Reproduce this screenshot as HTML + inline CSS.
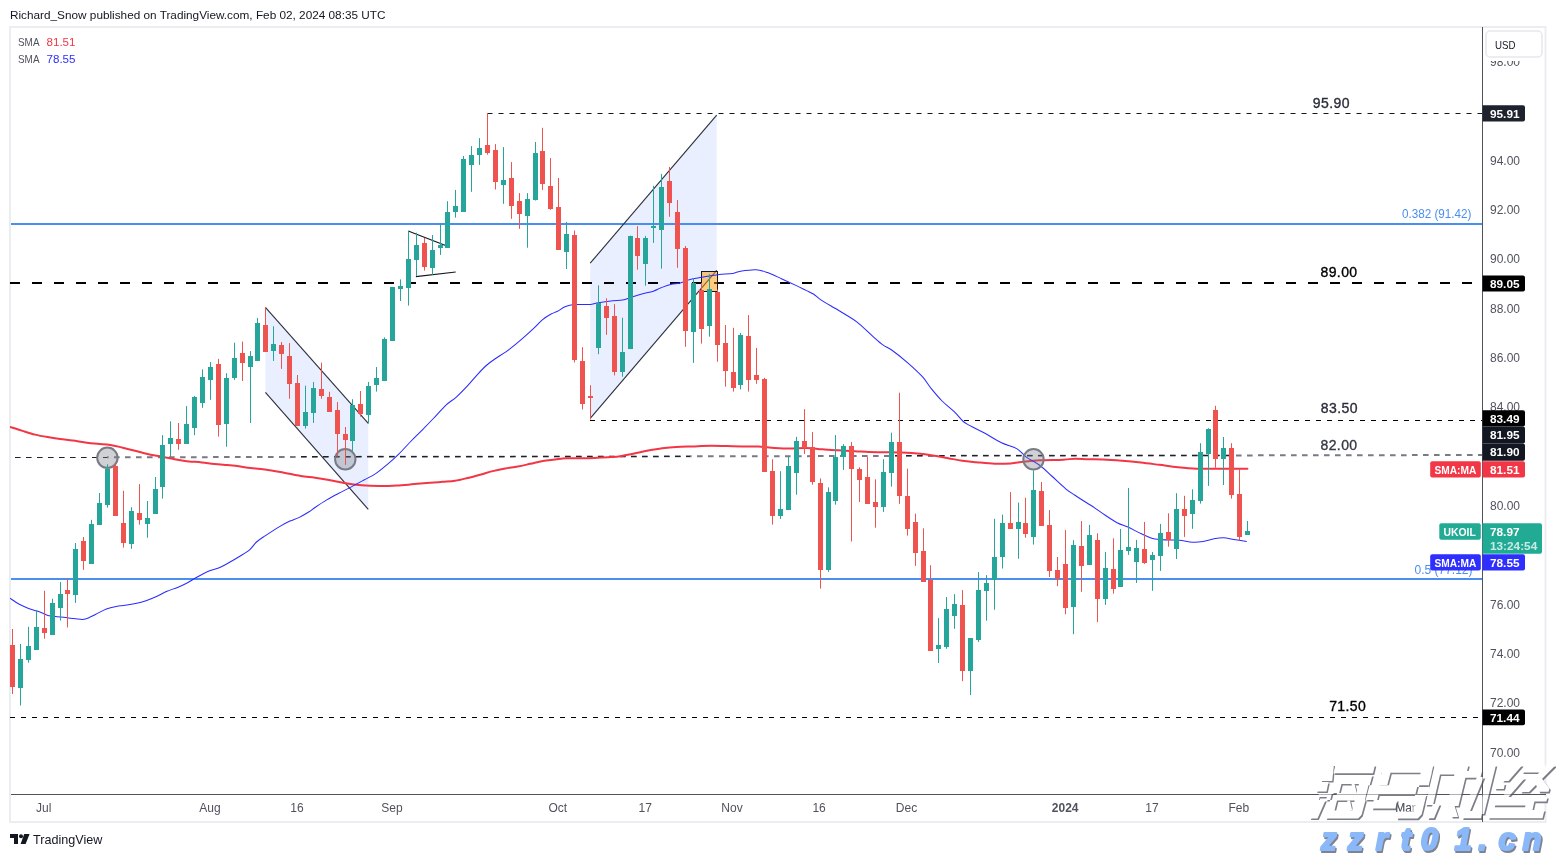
<!DOCTYPE html><html><head><meta charset="utf-8"><title>UKOIL chart</title><style>
html,body{margin:0;padding:0;background:#fff;}
body{width:1556px;height:857px;overflow:hidden;position:relative;font-family:"Liberation Sans", sans-serif;}
svg{position:absolute;left:0;top:0;display:block;will-change:transform;}
text{font-family:"Liberation Sans", sans-serif;}
</style></head><body>
<svg width="1556" height="857" viewBox="0 0 1556 857" shape-rendering="auto">
<defs><clipPath id="cp"><rect x="10" y="28" width="1472" height="766"/></clipPath><filter id="sh" x="-10%" y="-10%" width="130%" height="140%"><feGaussianBlur in="SourceAlpha" stdDeviation="1.2"/><feOffset dx="2" dy="3" result="o"/><feFlood flood-color="#555" flood-opacity="0.9"/><feComposite in2="o" operator="in"/><feMerge><feMergeNode/><feMergeNode in="SourceGraphic"/></feMerge></filter><filter id="bl"><feGaussianBlur stdDeviation="0.7"/></filter></defs>
<rect x="0" y="0" width="1556" height="857" fill="#ffffff"/>
<text x="10" y="19" font-size="11.7" fill="#131722" textLength="375.5" lengthAdjust="spacingAndGlyphs">Richard_Snow published on TradingView.com, Feb 02, 2024 08:35 UTC</text>
<rect x="10" y="27" width="1535.5" height="795" fill="none" stroke="#ebedf1" stroke-width="2"/>
<g clip-path="url(#cp)">
<polygon points="265.4,307.4 368.3,423.4 368.3,509.3 265.4,392.4" fill="rgba(41,98,255,0.1)"/>
<polygon points="590.2,263.2 716.7,115.2 716.7,270.4 590.2,418.4" fill="rgba(41,98,255,0.1)"/>
<rect x="11" y="223" width="1471" height="2" fill="#4a8ff0"/>
<rect x="11" y="578" width="1471" height="2" fill="#4a8ff0"/>
<line x1="487.5" y1="113.5" x2="1482.0" y2="113.5" stroke="#131722" stroke-width="1" stroke-dasharray="5 6" stroke-dashoffset="0"/>
<line x1="10.0" y1="283.0" x2="1482.0" y2="283.0" stroke="#000000" stroke-width="2" stroke-dasharray="10 12" stroke-dashoffset="0"/>
<line x1="590.0" y1="420.5" x2="1482.0" y2="420.5" stroke="#000000" stroke-width="1" stroke-dasharray="5 6" stroke-dashoffset="0"/>
<line x1="107" y1="457.3" x2="1482" y2="455" stroke="#787b86" stroke-width="2" stroke-dasharray="5.6 5.4" stroke-dashoffset="4.0"/>
<line x1="10.0" y1="717.5" x2="1482.0" y2="717.5" stroke="#000000" stroke-width="1" stroke-dasharray="5 6" stroke-dashoffset="0"/>
<line x1="15.0" y1="457.5" x2="107.0" y2="457.5" stroke="#1e222d" stroke-width="1.2" stroke-dasharray="5.6 5.4" stroke-dashoffset="0.0"/>
<line x1="300.0" y1="456.5" x2="690.0" y2="456.5" stroke="#1e222d" stroke-width="1.2" stroke-dasharray="5.6 5.4" stroke-dashoffset="10.0"/>
<line x1="890.0" y1="455.5" x2="1235.0" y2="455.5" stroke="#1e222d" stroke-width="1.2" stroke-dasharray="5.6 5.4" stroke-dashoffset="6.0"/>
<line x1="265.4" y1="307.4" x2="368.3" y2="423.4" stroke="#2a2e39" stroke-width="1.1"/>
<line x1="265.4" y1="392.4" x2="368.3" y2="509.3" stroke="#2a2e39" stroke-width="1.1"/>
<line x1="590.2" y1="263.2" x2="716.7" y2="115.2" stroke="#2a2e39" stroke-width="1.1"/>
<line x1="590.2" y1="418.4" x2="716.7" y2="270.4" stroke="#2a2e39" stroke-width="1.1"/>
<line x1="408.2" y1="231.1" x2="445.6" y2="245.6" stroke="#131722" stroke-width="1.1"/>
<line x1="415.9" y1="276.6" x2="455.7" y2="272" stroke="#131722" stroke-width="1.1"/>
<rect x="701.5" y="271.5" width="16" height="20" fill="rgba(255,152,0,0.5)" stroke="#131722" stroke-width="1"/>
<path d="M10.00 426.90 C12.08 427.57 18.32 429.62 22.50 430.90 C26.68 432.18 30.92 433.57 35.10 434.60 C39.28 435.63 43.43 436.37 47.60 437.10 C51.77 437.83 55.92 438.43 60.10 439.00 C64.28 439.57 68.52 439.93 72.70 440.50 C76.88 441.07 81.03 441.85 85.20 442.40 C89.37 442.95 93.52 443.38 97.70 443.80 C101.88 444.22 106.12 444.25 110.30 444.90 C114.48 445.55 118.68 446.73 122.80 447.70 C126.92 448.67 130.88 449.65 135.00 450.70 C139.12 451.75 143.32 453.07 147.50 454.00 C151.68 454.93 155.92 455.50 160.10 456.30 C164.28 457.10 168.43 458.03 172.60 458.80 C176.77 459.57 180.23 460.28 185.10 460.90 C189.97 461.52 196.92 461.98 201.80 462.50 C206.68 463.02 210.22 463.58 214.40 464.00 C218.58 464.42 223.42 464.72 226.90 465.00 C230.38 465.28 231.82 465.25 235.30 465.70 C238.78 466.15 242.85 467.08 247.80 467.70 C252.75 468.32 259.13 468.60 265.00 469.40 C270.87 470.20 277.05 471.40 283.00 472.50 C288.95 473.60 295.37 475.13 300.70 476.00 C306.03 476.87 310.28 477.03 315.00 477.70 C319.72 478.37 324.13 479.12 329.00 480.00 C333.87 480.88 338.75 482.12 344.20 483.00 C349.65 483.88 355.87 484.78 361.70 485.30 C367.53 485.82 373.37 486.05 379.20 486.10 C385.03 486.15 390.87 485.93 396.70 485.60 C402.53 485.27 408.65 484.57 414.20 484.10 C419.75 483.63 425.28 483.18 430.00 482.80 C434.72 482.42 438.32 482.13 442.50 481.80 C446.68 481.47 450.92 481.43 455.10 480.80 C459.28 480.17 463.43 479.02 467.60 478.00 C471.77 476.98 475.92 475.85 480.10 474.70 C484.28 473.55 488.52 472.15 492.70 471.10 C496.88 470.05 501.03 469.15 505.20 468.40 C509.37 467.65 513.52 467.37 517.70 466.60 C521.88 465.83 526.12 464.75 530.30 463.80 C534.48 462.85 538.68 461.60 542.80 460.90 C546.92 460.20 551.10 460.03 555.00 459.60 C558.90 459.17 561.53 458.52 566.20 458.30 C570.87 458.08 577.87 458.38 583.00 458.30 C588.13 458.22 592.35 458.00 597.00 457.80 C601.65 457.60 607.03 457.37 610.90 457.10 C614.77 456.83 616.32 456.82 620.20 456.20 C624.08 455.58 629.53 454.33 634.20 453.40 C638.87 452.47 643.53 451.45 648.20 450.60 C652.87 449.75 657.53 448.92 662.20 448.30 C666.87 447.68 670.73 447.22 676.20 446.90 C681.67 446.58 689.22 446.58 695.00 446.40 C700.78 446.22 705.60 445.85 710.90 445.80 C716.20 445.75 721.50 446.00 726.80 446.10 C732.10 446.20 737.40 446.32 742.70 446.40 C748.00 446.48 753.30 446.35 758.60 446.60 C763.90 446.85 769.20 447.58 774.50 447.90 C779.80 448.22 785.10 448.50 790.40 448.50 C795.70 448.50 800.98 447.77 806.30 447.90 C811.62 448.03 816.98 448.90 822.30 449.30 C827.62 449.70 832.75 449.98 838.20 450.30 C843.65 450.62 849.87 450.90 855.00 451.20 C860.13 451.50 864.33 451.92 869.00 452.10 C873.67 452.28 877.57 452.22 883.00 452.30 C888.43 452.38 895.40 452.35 901.60 452.60 C907.80 452.85 914.77 453.27 920.20 453.80 C925.63 454.33 929.53 455.07 934.20 455.80 C938.87 456.53 943.53 457.38 948.20 458.20 C952.87 459.02 957.53 460.03 962.20 460.70 C966.87 461.37 970.77 461.68 976.20 462.20 C981.63 462.72 989.03 463.60 994.80 463.80 C1000.57 464.00 1005.60 463.80 1010.80 463.40 C1016.00 463.00 1021.13 461.92 1026.00 461.40 C1030.87 460.88 1033.77 460.58 1040.00 460.30 C1046.23 460.02 1057.57 459.97 1063.40 459.70 C1069.23 459.43 1070.90 458.78 1075.00 458.70 C1079.10 458.62 1083.28 459.08 1088.00 459.20 C1092.72 459.32 1097.63 459.15 1103.30 459.40 C1108.97 459.65 1115.77 460.18 1122.00 460.70 C1128.23 461.22 1134.48 461.82 1140.70 462.50 C1146.92 463.18 1153.08 464.02 1159.30 464.80 C1165.52 465.58 1171.77 466.55 1178.00 467.20 C1184.23 467.85 1190.48 468.45 1196.70 468.70 C1202.92 468.95 1206.85 468.70 1215.30 468.70 C1223.75 468.70 1242.05 468.70 1247.40 468.70" fill="none" stroke="#f23645" stroke-width="2.0" stroke-linecap="round" stroke-linejoin="round"/>
<path d="M10.00 598.20 C11.63 599.25 16.80 602.83 19.80 604.50 C22.80 606.17 25.13 607.10 28.00 608.20 C30.87 609.30 34.28 610.15 37.00 611.10 C39.72 612.05 42.27 613.12 44.30 613.90 C46.33 614.68 47.28 615.38 49.20 615.80 C51.12 616.22 52.80 616.07 55.80 616.40 C58.80 616.73 63.93 617.40 67.20 617.80 C70.47 618.20 72.82 618.52 75.40 618.80 C77.98 619.08 80.53 619.63 82.70 619.50 C84.87 619.37 86.22 618.87 88.40 618.00 C90.58 617.13 92.80 615.80 95.80 614.30 C98.80 612.80 103.00 610.32 106.40 609.00 C109.80 607.68 113.10 607.02 116.20 606.40 C119.30 605.78 121.78 605.78 125.00 605.30 C128.22 604.82 132.00 604.27 135.50 603.50 C139.00 602.73 142.50 601.87 146.00 600.70 C149.50 599.53 153.00 598.07 156.50 596.50 C160.00 594.93 163.50 592.82 167.00 591.30 C170.50 589.78 174.23 588.75 177.50 587.40 C180.77 586.05 183.68 584.72 186.60 583.20 C189.52 581.68 192.43 579.75 195.00 578.30 C197.57 576.85 199.45 575.78 202.00 574.50 C204.55 573.22 207.53 571.68 210.30 570.60 C213.07 569.52 216.03 569.02 218.60 568.00 C221.17 566.98 221.95 566.58 225.70 564.50 C229.45 562.42 237.03 558.03 241.10 555.50 C245.17 552.97 247.53 551.55 250.10 549.30 C252.67 547.05 253.93 544.28 256.50 542.00 C259.07 539.72 261.65 538.17 265.50 535.60 C269.35 533.03 275.53 529.02 279.60 526.60 C283.67 524.18 286.70 522.60 289.90 521.10 C293.10 519.60 295.60 519.15 298.80 517.60 C302.00 516.05 306.40 513.48 309.10 511.80 C311.80 510.12 312.07 509.48 315.00 507.50 C317.93 505.52 322.82 502.23 326.70 499.90 C330.58 497.57 334.42 495.55 338.30 493.50 C342.18 491.45 345.72 489.85 350.00 487.60 C354.28 485.35 359.72 482.33 364.00 480.00 C368.28 477.67 371.80 476.22 375.70 473.60 C379.60 470.98 383.52 467.60 387.40 464.30 C391.28 461.00 395.12 457.60 399.00 453.80 C402.88 450.00 406.80 445.50 410.70 441.50 C414.60 437.50 418.70 433.55 422.40 429.80 C426.10 426.05 428.97 423.12 432.90 419.00 C436.83 414.88 442.10 408.75 446.00 405.10 C449.90 401.45 452.65 400.38 456.30 397.10 C459.95 393.82 464.27 389.28 467.90 385.40 C471.53 381.52 474.93 377.20 478.10 373.80 C481.27 370.40 483.98 367.55 486.90 365.00 C489.82 362.45 492.43 360.68 495.60 358.50 C498.77 356.32 502.48 354.33 505.90 351.90 C509.32 349.47 512.70 346.70 516.10 343.90 C519.50 341.10 523.15 337.90 526.30 335.10 C529.45 332.30 532.33 329.65 535.00 327.10 C537.67 324.55 539.62 321.98 542.30 319.80 C544.98 317.62 548.65 315.38 551.10 314.00 C553.55 312.62 554.58 312.73 557.00 311.50 C559.42 310.27 562.72 307.75 565.60 306.60 C568.48 305.45 570.12 304.97 574.30 304.60 C578.48 304.23 586.68 304.72 590.70 304.40 C594.72 304.08 594.72 303.30 598.40 302.70 C602.08 302.10 608.78 301.23 612.80 300.80 C616.82 300.37 619.28 300.75 622.50 300.10 C625.72 299.45 628.88 297.92 632.10 296.90 C635.32 295.88 638.27 294.95 641.80 294.00 C645.33 293.05 650.10 292.23 653.30 291.20 C656.50 290.17 658.10 288.93 661.00 287.80 C663.90 286.67 667.48 285.20 670.70 284.40 C673.92 283.60 677.08 283.80 680.30 283.00 C683.52 282.20 686.72 280.50 690.00 279.60 C693.28 278.70 696.73 278.20 700.00 277.60 C703.27 277.00 706.38 276.52 709.60 276.00 C712.82 275.48 715.43 274.93 719.30 274.50 C723.17 274.07 729.27 273.95 732.80 273.40 C736.33 272.85 736.65 271.82 740.50 271.20 C744.35 270.58 751.40 269.47 755.90 269.70 C760.40 269.93 763.17 271.07 767.50 272.60 C771.83 274.13 777.08 276.73 781.90 278.90 C786.72 281.07 792.38 283.68 796.40 285.60 C800.42 287.52 803.10 288.95 806.00 290.40 C808.90 291.85 811.38 292.77 813.80 294.30 C816.22 295.83 816.97 297.27 820.50 299.60 C824.03 301.93 830.92 305.87 835.00 308.30 C839.08 310.73 841.32 311.90 845.00 314.20 C848.68 316.50 852.55 318.50 857.10 322.10 C861.65 325.70 868.00 332.00 872.30 335.80 C876.60 339.60 879.62 342.50 882.90 344.90 C886.18 347.30 887.95 347.30 892.00 350.20 C896.05 353.10 902.13 357.88 907.20 362.30 C912.27 366.72 918.35 372.27 922.40 376.70 C926.45 381.13 928.22 384.85 931.50 388.90 C934.78 392.95 938.32 397.22 942.10 401.00 C945.88 404.78 950.67 408.18 954.20 411.60 C957.73 415.02 960.67 419.17 963.30 421.50 C965.93 423.83 966.55 423.72 970.00 425.60 C973.45 427.48 978.75 429.93 984.00 432.80 C989.25 435.67 996.05 440.17 1001.50 442.80 C1006.95 445.43 1012.62 446.27 1016.70 448.60 C1020.78 450.93 1022.12 453.98 1026.00 456.80 C1029.88 459.62 1035.72 462.30 1040.00 465.50 C1044.28 468.70 1047.42 472.12 1051.70 476.00 C1055.98 479.88 1061.82 485.58 1065.70 488.80 C1069.58 492.02 1071.50 492.97 1075.00 495.30 C1078.50 497.63 1083.37 500.67 1086.70 502.80 C1090.03 504.93 1091.90 506.02 1095.00 508.10 C1098.10 510.18 1101.53 512.82 1105.30 515.30 C1109.07 517.78 1113.83 521.03 1117.60 523.00 C1121.37 524.97 1123.95 525.30 1127.90 527.10 C1131.85 528.90 1137.18 531.92 1141.30 533.80 C1145.42 535.68 1148.32 537.37 1152.60 538.40 C1156.88 539.43 1162.55 539.70 1167.00 540.00 C1171.45 540.30 1175.02 539.83 1179.30 540.20 C1183.58 540.57 1188.75 541.98 1192.70 542.20 C1196.65 542.42 1199.57 542.05 1203.00 541.50 C1206.43 540.95 1209.88 539.53 1213.30 538.90 C1216.72 538.27 1220.08 537.62 1223.50 537.70 C1226.92 537.78 1229.92 538.77 1233.80 539.40 C1237.68 540.03 1244.63 541.15 1246.80 541.50" fill="none" stroke="#2b2bff" stroke-width="1.05" stroke-linejoin="round"/>
<circle cx="107.4" cy="457.8" r="10.2" fill="rgba(120,123,134,0.35)" stroke="#787b86" stroke-width="2"/>
<circle cx="345.3" cy="459.3" r="10.2" fill="rgba(120,123,134,0.35)" stroke="#787b86" stroke-width="2"/>
<circle cx="1033.5" cy="459.3" r="10.2" fill="rgba(120,123,134,0.35)" stroke="#787b86" stroke-width="2"/>
<rect x="12" y="629.0" width="1" height="65.0" fill="#ef5350"/>
<rect x="10" y="645" width="5" height="42" fill="#ef5350"/>
<rect x="20" y="644.0" width="1" height="61.5" fill="#26a69a"/>
<rect x="18" y="659" width="5" height="29" fill="#26a69a"/>
<rect x="28" y="626.8" width="1" height="35.8" fill="#26a69a"/>
<rect x="26" y="646" width="5" height="14" fill="#26a69a"/>
<rect x="36" y="610.0" width="1" height="39.6" fill="#26a69a"/>
<rect x="34" y="627" width="5" height="23" fill="#26a69a"/>
<rect x="44" y="590.8" width="1" height="47.9" fill="#ef5350"/>
<rect x="42" y="628" width="5" height="5" fill="#ef5350"/>
<rect x="52" y="598.8" width="1" height="35.8" fill="#26a69a"/>
<rect x="50" y="603" width="5" height="32" fill="#26a69a"/>
<rect x="60" y="582.0" width="1" height="38.6" fill="#26a69a"/>
<rect x="58" y="594" width="5" height="14" fill="#26a69a"/>
<rect x="67" y="578.7" width="1" height="48.8" fill="#ef5350"/>
<rect x="65" y="590" width="5" height="4" fill="#ef5350"/>
<rect x="75" y="543.0" width="1" height="59.9" fill="#26a69a"/>
<rect x="73" y="549" width="5" height="46" fill="#26a69a"/>
<rect x="83" y="537.0" width="1" height="32.8" fill="#ef5350"/>
<rect x="81" y="541" width="5" height="20" fill="#ef5350"/>
<rect x="91" y="519.8" width="1" height="43.7" fill="#26a69a"/>
<rect x="89" y="524" width="5" height="40" fill="#26a69a"/>
<rect x="99" y="493.0" width="1" height="31.7" fill="#26a69a"/>
<rect x="97" y="503" width="5" height="22" fill="#26a69a"/>
<rect x="107" y="464.2" width="1" height="43.4" fill="#26a69a"/>
<rect x="105" y="469" width="5" height="36" fill="#26a69a"/>
<rect x="115" y="463.0" width="1" height="52.6" fill="#ef5350"/>
<rect x="113" y="466" width="5" height="50" fill="#ef5350"/>
<rect x="123" y="490.8" width="1" height="56.8" fill="#ef5350"/>
<rect x="121" y="523" width="5" height="20" fill="#ef5350"/>
<rect x="131" y="507.2" width="1" height="41.6" fill="#26a69a"/>
<rect x="129" y="511" width="5" height="33" fill="#26a69a"/>
<rect x="139" y="484.1" width="1" height="40.6" fill="#ef5350"/>
<rect x="137" y="513" width="5" height="7" fill="#ef5350"/>
<rect x="147" y="501.0" width="1" height="36.7" fill="#26a69a"/>
<rect x="145" y="518" width="5" height="6" fill="#26a69a"/>
<rect x="155" y="477.0" width="1" height="37.0" fill="#26a69a"/>
<rect x="153" y="489" width="5" height="25" fill="#26a69a"/>
<rect x="162" y="435.1" width="1" height="63.5" fill="#26a69a"/>
<rect x="160" y="445" width="5" height="42" fill="#26a69a"/>
<rect x="170" y="421.3" width="1" height="35.7" fill="#26a69a"/>
<rect x="168" y="438" width="5" height="6" fill="#26a69a"/>
<rect x="178" y="423.0" width="1" height="26.8" fill="#ef5350"/>
<rect x="176" y="439" width="5" height="5" fill="#ef5350"/>
<rect x="186" y="406.1" width="1" height="37.9" fill="#26a69a"/>
<rect x="184" y="424" width="5" height="20" fill="#26a69a"/>
<rect x="194" y="396.0" width="1" height="39.1" fill="#26a69a"/>
<rect x="192" y="397" width="5" height="31" fill="#26a69a"/>
<rect x="202" y="369.4" width="1" height="38.4" fill="#26a69a"/>
<rect x="200" y="377" width="5" height="26" fill="#26a69a"/>
<rect x="210" y="362.0" width="1" height="37.8" fill="#26a69a"/>
<rect x="208" y="367" width="5" height="13" fill="#26a69a"/>
<rect x="218" y="358.9" width="1" height="77.7" fill="#ef5350"/>
<rect x="216" y="364" width="5" height="61" fill="#ef5350"/>
<rect x="226" y="373.2" width="1" height="73.5" fill="#26a69a"/>
<rect x="224" y="378" width="5" height="46" fill="#26a69a"/>
<rect x="234" y="342.7" width="1" height="37.2" fill="#26a69a"/>
<rect x="232" y="358" width="5" height="20" fill="#26a69a"/>
<rect x="242" y="341.6" width="1" height="39.4" fill="#ef5350"/>
<rect x="240" y="353" width="5" height="10" fill="#ef5350"/>
<rect x="250" y="351.1" width="1" height="71.9" fill="#26a69a"/>
<rect x="248" y="356" width="5" height="11" fill="#26a69a"/>
<rect x="257" y="317.9" width="1" height="43.0" fill="#26a69a"/>
<rect x="255" y="323" width="5" height="38" fill="#26a69a"/>
<rect x="265" y="307.4" width="1" height="44.1" fill="#ef5350"/>
<rect x="263" y="325" width="5" height="27" fill="#ef5350"/>
<rect x="273" y="326.3" width="1" height="34.6" fill="#26a69a"/>
<rect x="271" y="344" width="5" height="7" fill="#26a69a"/>
<rect x="281" y="342.0" width="1" height="26.9" fill="#ef5350"/>
<rect x="279" y="345" width="5" height="9" fill="#ef5350"/>
<rect x="289" y="343.1" width="1" height="55.6" fill="#ef5350"/>
<rect x="287" y="356" width="5" height="28" fill="#ef5350"/>
<rect x="297" y="375.0" width="1" height="50.6" fill="#ef5350"/>
<rect x="295" y="383" width="5" height="43" fill="#ef5350"/>
<rect x="305" y="385.7" width="1" height="42.9" fill="#26a69a"/>
<rect x="303" y="412" width="5" height="14" fill="#26a69a"/>
<rect x="313" y="381.9" width="1" height="41.0" fill="#26a69a"/>
<rect x="311" y="388" width="5" height="25" fill="#26a69a"/>
<rect x="321" y="362.6" width="1" height="36.1" fill="#ef5350"/>
<rect x="319" y="389" width="5" height="7" fill="#ef5350"/>
<rect x="329" y="391.8" width="1" height="20.0" fill="#ef5350"/>
<rect x="327" y="397" width="5" height="15" fill="#ef5350"/>
<rect x="337" y="402.1" width="1" height="54.4" fill="#ef5350"/>
<rect x="335" y="410" width="5" height="24" fill="#ef5350"/>
<rect x="345" y="427.0" width="1" height="37.9" fill="#ef5350"/>
<rect x="343" y="434" width="5" height="6" fill="#ef5350"/>
<rect x="352" y="399.2" width="1" height="51.8" fill="#26a69a"/>
<rect x="350" y="405" width="5" height="36" fill="#26a69a"/>
<rect x="360" y="391.0" width="1" height="25.6" fill="#ef5350"/>
<rect x="358" y="404" width="5" height="10" fill="#ef5350"/>
<rect x="368" y="381.9" width="1" height="41.5" fill="#26a69a"/>
<rect x="366" y="386" width="5" height="29" fill="#26a69a"/>
<rect x="376" y="367.0" width="1" height="24.6" fill="#26a69a"/>
<rect x="374" y="378" width="5" height="7" fill="#26a69a"/>
<rect x="384" y="337.4" width="1" height="43.7" fill="#26a69a"/>
<rect x="382" y="339" width="5" height="42" fill="#26a69a"/>
<rect x="392" y="286.9" width="1" height="54.0" fill="#26a69a"/>
<rect x="390" y="287" width="5" height="54" fill="#26a69a"/>
<rect x="400" y="279.4" width="1" height="21.6" fill="#26a69a"/>
<rect x="398" y="286" width="5" height="3" fill="#26a69a"/>
<rect x="408" y="231.5" width="1" height="74.1" fill="#26a69a"/>
<rect x="406" y="259" width="5" height="29" fill="#26a69a"/>
<rect x="416" y="232.7" width="1" height="43.2" fill="#26a69a"/>
<rect x="414" y="245" width="5" height="15" fill="#26a69a"/>
<rect x="424" y="238.1" width="1" height="32.5" fill="#ef5350"/>
<rect x="422" y="243" width="5" height="24" fill="#ef5350"/>
<rect x="432" y="235.0" width="1" height="39.8" fill="#26a69a"/>
<rect x="430" y="250" width="5" height="18" fill="#26a69a"/>
<rect x="440" y="223.4" width="1" height="31.5" fill="#26a69a"/>
<rect x="438" y="245" width="5" height="3" fill="#26a69a"/>
<rect x="447" y="201.2" width="1" height="46.7" fill="#26a69a"/>
<rect x="445" y="212" width="5" height="36" fill="#26a69a"/>
<rect x="455" y="189.9" width="1" height="27.7" fill="#26a69a"/>
<rect x="453" y="206" width="5" height="6" fill="#26a69a"/>
<rect x="463" y="156.0" width="1" height="55.9" fill="#26a69a"/>
<rect x="461" y="159" width="5" height="53" fill="#26a69a"/>
<rect x="471" y="146.1" width="1" height="45.7" fill="#26a69a"/>
<rect x="469" y="155" width="5" height="10" fill="#26a69a"/>
<rect x="479" y="138.1" width="1" height="26.8" fill="#26a69a"/>
<rect x="477" y="148" width="5" height="7" fill="#26a69a"/>
<rect x="487" y="113.1" width="1" height="41.6" fill="#ef5350"/>
<rect x="485" y="145" width="5" height="8" fill="#ef5350"/>
<rect x="495" y="144.1" width="1" height="45.4" fill="#ef5350"/>
<rect x="493" y="150" width="5" height="32" fill="#ef5350"/>
<rect x="503" y="147.1" width="1" height="56.7" fill="#26a69a"/>
<rect x="501" y="180" width="5" height="5" fill="#26a69a"/>
<rect x="511" y="162.1" width="1" height="56.7" fill="#ef5350"/>
<rect x="509" y="178" width="5" height="28" fill="#ef5350"/>
<rect x="519" y="193.1" width="1" height="35.7" fill="#ef5350"/>
<rect x="517" y="201" width="5" height="13" fill="#ef5350"/>
<rect x="527" y="193.1" width="1" height="54.6" fill="#26a69a"/>
<rect x="525" y="199" width="5" height="17" fill="#26a69a"/>
<rect x="535" y="142.0" width="1" height="58.5" fill="#26a69a"/>
<rect x="533" y="153" width="5" height="47" fill="#26a69a"/>
<rect x="542" y="127.8" width="1" height="62.1" fill="#ef5350"/>
<rect x="540" y="151" width="5" height="33" fill="#ef5350"/>
<rect x="550" y="158.0" width="1" height="51.8" fill="#ef5350"/>
<rect x="548" y="186" width="5" height="23" fill="#ef5350"/>
<rect x="558" y="178.0" width="1" height="71.8" fill="#ef5350"/>
<rect x="556" y="207" width="5" height="43" fill="#ef5350"/>
<rect x="566" y="221.9" width="1" height="47.1" fill="#26a69a"/>
<rect x="564" y="234" width="5" height="18" fill="#26a69a"/>
<rect x="574" y="230.5" width="1" height="131.9" fill="#ef5350"/>
<rect x="572" y="235" width="5" height="125" fill="#ef5350"/>
<rect x="582" y="347.2" width="1" height="62.3" fill="#ef5350"/>
<rect x="580" y="361" width="5" height="43" fill="#ef5350"/>
<rect x="590" y="385.2" width="1" height="34.3" fill="#ef5350"/>
<rect x="588" y="396" width="5" height="2" fill="#ef5350"/>
<rect x="598" y="285.3" width="1" height="68.9" fill="#26a69a"/>
<rect x="596" y="303" width="5" height="45" fill="#26a69a"/>
<rect x="606" y="298.2" width="1" height="36.6" fill="#ef5350"/>
<rect x="604" y="306" width="5" height="12" fill="#ef5350"/>
<rect x="614" y="304.1" width="1" height="71.3" fill="#ef5350"/>
<rect x="612" y="316" width="5" height="56" fill="#ef5350"/>
<rect x="622" y="317.7" width="1" height="59.0" fill="#26a69a"/>
<rect x="620" y="352" width="5" height="20" fill="#26a69a"/>
<rect x="630" y="235.6" width="1" height="113.6" fill="#26a69a"/>
<rect x="628" y="236" width="5" height="113" fill="#26a69a"/>
<rect x="637" y="226.2" width="1" height="43.5" fill="#ef5350"/>
<rect x="635" y="238" width="5" height="18" fill="#ef5350"/>
<rect x="645" y="235.9" width="1" height="49.8" fill="#26a69a"/>
<rect x="643" y="238" width="5" height="26" fill="#26a69a"/>
<rect x="653" y="185.8" width="1" height="57.1" fill="#26a69a"/>
<rect x="651" y="226" width="5" height="2" fill="#26a69a"/>
<rect x="661" y="173.9" width="1" height="94.7" fill="#26a69a"/>
<rect x="659" y="187" width="5" height="43" fill="#26a69a"/>
<rect x="669" y="166.9" width="1" height="49.9" fill="#ef5350"/>
<rect x="667" y="181" width="5" height="22" fill="#ef5350"/>
<rect x="677" y="200.0" width="1" height="67.8" fill="#ef5350"/>
<rect x="675" y="212" width="5" height="37" fill="#ef5350"/>
<rect x="685" y="246.0" width="1" height="100.8" fill="#ef5350"/>
<rect x="683" y="248" width="5" height="83" fill="#ef5350"/>
<rect x="693" y="278.3" width="1" height="84.6" fill="#26a69a"/>
<rect x="691" y="283" width="5" height="49" fill="#26a69a"/>
<rect x="701" y="283.0" width="1" height="60.6" fill="#ef5350"/>
<rect x="699" y="290" width="5" height="39" fill="#ef5350"/>
<rect x="709" y="274.2" width="1" height="62.5" fill="#26a69a"/>
<rect x="707" y="289" width="5" height="37" fill="#26a69a"/>
<rect x="717" y="289.5" width="1" height="72.2" fill="#ef5350"/>
<rect x="715" y="292" width="5" height="53" fill="#ef5350"/>
<rect x="725" y="325.0" width="1" height="61.6" fill="#ef5350"/>
<rect x="723" y="343" width="5" height="28" fill="#ef5350"/>
<rect x="733" y="327.8" width="1" height="63.8" fill="#ef5350"/>
<rect x="731" y="372" width="5" height="16" fill="#ef5350"/>
<rect x="740" y="333.0" width="1" height="56.4" fill="#26a69a"/>
<rect x="738" y="335" width="5" height="50" fill="#26a69a"/>
<rect x="748" y="315.1" width="1" height="76.5" fill="#ef5350"/>
<rect x="746" y="336" width="5" height="44" fill="#ef5350"/>
<rect x="756" y="347.9" width="1" height="35.9" fill="#ef5350"/>
<rect x="754" y="375" width="5" height="5" fill="#ef5350"/>
<rect x="764" y="377.8" width="1" height="93.9" fill="#ef5350"/>
<rect x="762" y="379" width="5" height="93" fill="#ef5350"/>
<rect x="772" y="459.2" width="1" height="65.4" fill="#ef5350"/>
<rect x="770" y="471" width="5" height="45" fill="#ef5350"/>
<rect x="780" y="471.2" width="1" height="47.8" fill="#26a69a"/>
<rect x="778" y="509" width="5" height="7" fill="#26a69a"/>
<rect x="788" y="455.9" width="1" height="53.7" fill="#26a69a"/>
<rect x="786" y="466" width="5" height="44" fill="#26a69a"/>
<rect x="796" y="436.8" width="1" height="57.9" fill="#26a69a"/>
<rect x="794" y="441" width="5" height="32" fill="#26a69a"/>
<rect x="804" y="409.2" width="1" height="44.8" fill="#ef5350"/>
<rect x="802" y="441" width="5" height="7" fill="#ef5350"/>
<rect x="812" y="432.1" width="1" height="52.6" fill="#ef5350"/>
<rect x="810" y="447" width="5" height="35" fill="#ef5350"/>
<rect x="820" y="478.4" width="1" height="110.2" fill="#ef5350"/>
<rect x="818" y="483" width="5" height="87" fill="#ef5350"/>
<rect x="828" y="487.3" width="1" height="84.5" fill="#26a69a"/>
<rect x="826" y="492" width="5" height="78" fill="#26a69a"/>
<rect x="835" y="435.1" width="1" height="69.6" fill="#26a69a"/>
<rect x="833" y="457" width="5" height="44" fill="#26a69a"/>
<rect x="843" y="444.2" width="1" height="25.8" fill="#26a69a"/>
<rect x="841" y="446" width="5" height="11" fill="#26a69a"/>
<rect x="851" y="442.1" width="1" height="99.4" fill="#ef5350"/>
<rect x="849" y="446" width="5" height="23" fill="#ef5350"/>
<rect x="859" y="467.3" width="1" height="34.7" fill="#ef5350"/>
<rect x="857" y="469" width="5" height="11" fill="#ef5350"/>
<rect x="867" y="456.8" width="1" height="46.9" fill="#ef5350"/>
<rect x="865" y="477" width="5" height="27" fill="#ef5350"/>
<rect x="875" y="479.3" width="1" height="48.4" fill="#ef5350"/>
<rect x="873" y="502" width="5" height="5" fill="#ef5350"/>
<rect x="883" y="459.2" width="1" height="52.7" fill="#26a69a"/>
<rect x="881" y="472" width="5" height="35" fill="#26a69a"/>
<rect x="891" y="432.7" width="1" height="53.9" fill="#26a69a"/>
<rect x="889" y="442" width="5" height="31" fill="#26a69a"/>
<rect x="899" y="392.7" width="1" height="111.1" fill="#ef5350"/>
<rect x="897" y="442" width="5" height="54" fill="#ef5350"/>
<rect x="907" y="468.7" width="1" height="66.9" fill="#ef5350"/>
<rect x="905" y="496" width="5" height="33" fill="#ef5350"/>
<rect x="915" y="513.6" width="1" height="52.2" fill="#ef5350"/>
<rect x="913" y="522" width="5" height="31" fill="#ef5350"/>
<rect x="923" y="528.3" width="1" height="53.2" fill="#ef5350"/>
<rect x="921" y="551" width="5" height="31" fill="#ef5350"/>
<rect x="930" y="565.2" width="1" height="85.5" fill="#ef5350"/>
<rect x="928" y="580" width="5" height="71" fill="#ef5350"/>
<rect x="938" y="618.1" width="1" height="44.9" fill="#26a69a"/>
<rect x="936" y="645" width="5" height="4" fill="#26a69a"/>
<rect x="946" y="597.0" width="1" height="51.8" fill="#26a69a"/>
<rect x="944" y="609" width="5" height="38" fill="#26a69a"/>
<rect x="954" y="594.2" width="1" height="34.6" fill="#26a69a"/>
<rect x="952" y="604" width="5" height="12" fill="#26a69a"/>
<rect x="962" y="590.1" width="1" height="91.0" fill="#ef5350"/>
<rect x="960" y="605" width="5" height="66" fill="#ef5350"/>
<rect x="970" y="638.1" width="1" height="57.0" fill="#26a69a"/>
<rect x="968" y="638" width="5" height="33" fill="#26a69a"/>
<rect x="978" y="572.1" width="1" height="69.8" fill="#26a69a"/>
<rect x="976" y="590" width="5" height="50" fill="#26a69a"/>
<rect x="986" y="575.1" width="1" height="45.6" fill="#26a69a"/>
<rect x="984" y="583" width="5" height="8" fill="#26a69a"/>
<rect x="994" y="518.8" width="1" height="90.9" fill="#26a69a"/>
<rect x="992" y="557" width="5" height="23" fill="#26a69a"/>
<rect x="1002" y="514.6" width="1" height="53.9" fill="#26a69a"/>
<rect x="1000" y="523" width="5" height="34" fill="#26a69a"/>
<rect x="1010" y="492.1" width="1" height="36.5" fill="#ef5350"/>
<rect x="1008" y="523" width="5" height="6" fill="#ef5350"/>
<rect x="1018" y="502.6" width="1" height="56.1" fill="#26a69a"/>
<rect x="1016" y="522" width="5" height="7" fill="#26a69a"/>
<rect x="1025" y="497.8" width="1" height="39.9" fill="#ef5350"/>
<rect x="1023" y="523" width="5" height="11" fill="#ef5350"/>
<rect x="1033" y="470.4" width="1" height="74.2" fill="#26a69a"/>
<rect x="1031" y="490" width="5" height="47" fill="#26a69a"/>
<rect x="1041" y="482.0" width="1" height="43.7" fill="#ef5350"/>
<rect x="1039" y="491" width="5" height="35" fill="#ef5350"/>
<rect x="1049" y="510.0" width="1" height="67.0" fill="#ef5350"/>
<rect x="1047" y="525" width="5" height="46" fill="#ef5350"/>
<rect x="1057" y="557.0" width="1" height="29.2" fill="#ef5350"/>
<rect x="1055" y="570" width="5" height="9" fill="#ef5350"/>
<rect x="1065" y="530.1" width="1" height="84.1" fill="#ef5350"/>
<rect x="1063" y="564" width="5" height="44" fill="#ef5350"/>
<rect x="1073" y="540.2" width="1" height="94.0" fill="#26a69a"/>
<rect x="1071" y="545" width="5" height="62" fill="#26a69a"/>
<rect x="1081" y="521.1" width="1" height="70.7" fill="#ef5350"/>
<rect x="1079" y="546" width="5" height="20" fill="#ef5350"/>
<rect x="1089" y="524.9" width="1" height="40.1" fill="#26a69a"/>
<rect x="1087" y="535" width="5" height="30" fill="#26a69a"/>
<rect x="1097" y="533.3" width="1" height="88.8" fill="#ef5350"/>
<rect x="1095" y="540" width="5" height="59" fill="#ef5350"/>
<rect x="1105" y="552.0" width="1" height="52.9" fill="#26a69a"/>
<rect x="1103" y="568" width="5" height="31" fill="#26a69a"/>
<rect x="1113" y="538.3" width="1" height="55.3" fill="#ef5350"/>
<rect x="1111" y="569" width="5" height="20" fill="#ef5350"/>
<rect x="1120" y="529.0" width="1" height="57.9" fill="#26a69a"/>
<rect x="1118" y="550" width="5" height="37" fill="#26a69a"/>
<rect x="1128" y="488.0" width="1" height="66.9" fill="#26a69a"/>
<rect x="1126" y="547" width="5" height="4" fill="#26a69a"/>
<rect x="1136" y="539.9" width="1" height="43.1" fill="#26a69a"/>
<rect x="1134" y="548" width="5" height="14" fill="#26a69a"/>
<rect x="1144" y="521.9" width="1" height="42.0" fill="#ef5350"/>
<rect x="1142" y="549" width="5" height="14" fill="#ef5350"/>
<rect x="1152" y="552.0" width="1" height="38.8" fill="#26a69a"/>
<rect x="1150" y="555" width="5" height="5" fill="#26a69a"/>
<rect x="1160" y="523.9" width="1" height="47.0" fill="#26a69a"/>
<rect x="1158" y="533" width="5" height="23" fill="#26a69a"/>
<rect x="1168" y="513.3" width="1" height="33.4" fill="#ef5350"/>
<rect x="1166" y="532" width="5" height="8" fill="#ef5350"/>
<rect x="1176" y="493.2" width="1" height="65.8" fill="#26a69a"/>
<rect x="1174" y="509" width="5" height="40" fill="#26a69a"/>
<rect x="1184" y="495.8" width="1" height="41.1" fill="#ef5350"/>
<rect x="1182" y="509" width="5" height="7" fill="#ef5350"/>
<rect x="1192" y="489.3" width="1" height="39.5" fill="#26a69a"/>
<rect x="1190" y="500" width="5" height="14" fill="#26a69a"/>
<rect x="1200" y="443.2" width="1" height="60.4" fill="#26a69a"/>
<rect x="1198" y="452" width="5" height="49" fill="#26a69a"/>
<rect x="1208" y="428.2" width="1" height="57.7" fill="#26a69a"/>
<rect x="1206" y="429" width="5" height="25" fill="#26a69a"/>
<rect x="1215" y="405.8" width="1" height="62.0" fill="#ef5350"/>
<rect x="1213" y="410" width="5" height="49" fill="#ef5350"/>
<rect x="1223" y="437.0" width="1" height="48.0" fill="#26a69a"/>
<rect x="1221" y="448" width="5" height="11" fill="#26a69a"/>
<rect x="1231" y="443.2" width="1" height="55.4" fill="#ef5350"/>
<rect x="1229" y="448" width="5" height="47" fill="#ef5350"/>
<rect x="1239" y="469.3" width="1" height="70.9" fill="#ef5350"/>
<rect x="1237" y="494" width="5" height="43" fill="#ef5350"/>
<rect x="1247" y="521.0" width="1" height="13.6" fill="#26a69a"/>
<rect x="1245" y="531" width="5" height="4" fill="#26a69a"/>
</g>
<rect x="1482" y="27" width="1" height="795" fill="#50535e"/>
<rect x="11" y="794" width="1535" height="1" fill="#50535e"/>
<text x="1490" y="164.8" font-size="12" fill="#50535e">94.00</text>
<text x="1490" y="214.1" font-size="12" fill="#50535e">92.00</text>
<text x="1490" y="263.4" font-size="12" fill="#50535e">90.00</text>
<text x="1490" y="312.7" font-size="12" fill="#50535e">88.00</text>
<text x="1490" y="362.1" font-size="12" fill="#50535e">86.00</text>
<text x="1490" y="411.4" font-size="12" fill="#50535e">84.00</text>
<text x="1490" y="510.0" font-size="12" fill="#50535e">80.00</text>
<text x="1490" y="608.7" font-size="12" fill="#50535e">76.00</text>
<text x="1490" y="658.0" font-size="12" fill="#50535e">74.00</text>
<text x="1490" y="707.3" font-size="12" fill="#50535e">72.00</text>
<text x="1490" y="756.7" font-size="12" fill="#50535e">70.00</text>
<text x="1490" y="66.1" font-size="12" fill="#50535e">98.00</text>
<rect x="1483" y="28" width="60.5" height="33" fill="#fff"/>
<rect x="1486" y="31" width="56" height="26" rx="4" ry="4" fill="#fff" stroke="#e6e8ed" stroke-width="1.5"/>
<text x="1495" y="48.9" font-size="11.8" fill="#131722" textLength="20.5" lengthAdjust="spacingAndGlyphs">USD</text>
<path d="M1482.5 105.2 H1523.0 a2 2 0 0 1 2 2 V119.4 a2 2 0 0 1 -2 2 H1482.5 Z" fill="#1e222d"/>
<text x="1490" y="117.5" font-size="11.8" font-weight="bold" fill="#fff">95.91</text>
<path d="M1482.5 275.5 H1523.0 a2 2 0 0 1 2 2 V289.5 a2 2 0 0 1 -2 2 H1482.5 Z" fill="#000000"/>
<text x="1490" y="287.7" font-size="11.8" font-weight="bold" fill="#fff">89.05</text>
<path d="M1482.5 410.2 H1523.0 a2 2 0 0 1 2 2 V424.6 a2 2 0 0 1 -2 2 H1482.5 Z" fill="#000000"/>
<text x="1490" y="422.6" font-size="11.8" font-weight="bold" fill="#fff">83.49</text>
<path d="M1482.5 426.6 H1523.0 a2 2 0 0 1 2 2 V441.6 a2 2 0 0 1 -2 2 H1482.5 Z" fill="#131722"/>
<text x="1490" y="439.3" font-size="11.8" font-weight="bold" fill="#fff">81.95</text>
<path d="M1482.5 443.6 H1523.0 a2 2 0 0 1 2 2 V458.8 a2 2 0 0 1 -2 2 H1482.5 Z" fill="#131722"/>
<text x="1490" y="456.4" font-size="11.8" font-weight="bold" fill="#fff">81.90</text>
<path d="M1482.5 461.3 H1523.0 a2 2 0 0 1 2 2 V475.4 a2 2 0 0 1 -2 2 H1482.5 Z" fill="#f23645"/>
<text x="1490" y="473.6" font-size="11.8" font-weight="bold" fill="#fff">81.51</text>
<path d="M1482.5 709.6 H1523.0 a2 2 0 0 1 2 2 V723.2 a2 2 0 0 1 -2 2 H1482.5 Z" fill="#000000"/>
<text x="1490" y="721.6" font-size="11.8" font-weight="bold" fill="#fff">71.44</text>
<path d="M1482.5 523.2 H1540 a2 2 0 0 1 2 2 V551.7 a2 2 0 0 1 -2 2 H1482.5 Z" fill="#22ab94"/>
<text x="1490" y="536" font-size="11.8" font-weight="bold" fill="#fff">78.97</text>
<text x="1490" y="550" font-size="11.8" font-weight="bold" fill="#c8eae4">13:24:54</text>
<path d="M1482.5 554.2 H1523.0 a2 2 0 0 1 2 2 V568.4 a2 2 0 0 1 -2 2 H1482.5 Z" fill="#2e2eff"/>
<text x="1490" y="566.5" font-size="11.8" font-weight="bold" fill="#fff">78.55</text>
<text x="1402" y="217.8" font-size="12" fill="#4a8ff0" textLength="69.5" lengthAdjust="spacingAndGlyphs">0.382 (91.42)</text>
<text x="1414.5" y="573.5" font-size="12" fill="#4a8ff0">0.5 (77.12)</text>
<rect x="1430.2" y="461.3" width="50.6" height="16.1" rx="2" ry="2" fill="#f23645"/>
<text x="1434.5" y="473.6" font-size="11.8" font-weight="bold" fill="#fff" textLength="41.8" lengthAdjust="spacingAndGlyphs">SMA:MA</text>
<rect x="1439.3" y="523.2" width="41.5" height="16.5" rx="2" ry="2" fill="#22ab94"/>
<text x="1443.5" y="535.7" font-size="11.8" font-weight="bold" fill="#fff" textLength="32.3" lengthAdjust="spacingAndGlyphs">UKOIL</text>
<rect x="1430.2" y="554.2" width="50.6" height="16.2" rx="2" ry="2" fill="#2e2eff"/>
<text x="1434.5" y="566.5" font-size="11.8" font-weight="bold" fill="#fff" textLength="41.8" lengthAdjust="spacingAndGlyphs">SMA:MA</text>
<text x="1312.8" y="107.9" font-size="14" letter-spacing="0.4" fill="#2a2e39" stroke="#2a2e39" stroke-width="0.35">95.90</text>
<text x="1320.5" y="277.1" font-size="14" letter-spacing="0.4" fill="#000" stroke="#000" stroke-width="0.35">89.00</text>
<text x="1320.8" y="412.7" font-size="14" letter-spacing="0.4" fill="#2a2e39" stroke="#2a2e39" stroke-width="0.35">83.50</text>
<text x="1320.5" y="450.3" font-size="14" letter-spacing="0.4" fill="#363a45" stroke="#363a45" stroke-width="0.35">82.00</text>
<text x="1329.2" y="710.9" font-size="14" letter-spacing="0.4" fill="#000" stroke="#000" stroke-width="0.35">71.50</text>
<text x="18" y="45.6" font-size="11.6" fill="#50535e" textLength="21.5" lengthAdjust="spacingAndGlyphs">SMA</text>
<text x="46.5" y="45.6" font-size="11.6" fill="#f23645">81.51</text>
<text x="18" y="63" font-size="11.6" fill="#50535e" textLength="21.5" lengthAdjust="spacingAndGlyphs">SMA</text>
<text x="46.5" y="63" font-size="11.6" fill="#2e2eff">78.55</text>
<text x="43.7" y="811.8" font-size="12" fill="#50535e" text-anchor="middle">Jul</text>
<text x="210.0" y="811.8" font-size="12" fill="#50535e" text-anchor="middle">Aug</text>
<text x="297.0" y="811.8" font-size="12" fill="#50535e" text-anchor="middle">16</text>
<text x="392.0" y="811.8" font-size="12" fill="#50535e" text-anchor="middle">Sep</text>
<text x="557.8" y="811.8" font-size="12" fill="#50535e" text-anchor="middle">Oct</text>
<text x="645.2" y="811.8" font-size="12" fill="#50535e" text-anchor="middle">17</text>
<text x="732.0" y="811.8" font-size="12" fill="#50535e" text-anchor="middle">Nov</text>
<text x="819.1" y="811.8" font-size="12" fill="#50535e" text-anchor="middle">16</text>
<text x="906.5" y="811.8" font-size="12" fill="#50535e" text-anchor="middle">Dec</text>
<text x="1065.2" y="811.8" font-size="12" fill="#50535e" text-anchor="middle" font-weight="bold">2024</text>
<text x="1152.0" y="811.8" font-size="12" fill="#50535e" text-anchor="middle">17</text>
<text x="1238.8" y="811.8" font-size="12" fill="#50535e" text-anchor="middle">Feb</text>
<text x="1405.5" y="811.8" font-size="12" fill="#50535e" text-anchor="middle">Mar</text>
<g fill="#131722"><path d="M10 834 H18 V844 H14 V838 H10 Z"/><circle cx="21" cy="836.2" r="2"/><path d="M24.2 834 H29.6 L25.6 844 H20.6 Z"/></g>
<text x="33" y="843.6" font-size="12.6" fill="#131722">TradingView</text>
<g filter="url(#bl)" transform="translate(1.3,1.6)" opacity="0.8"><path d="M1434.5 766.0 L1442.0 766.0 L1433.0 805.0 L1425.5 805.0 Z M1434.5 766.0 L1466.0 766.0 L1464.0 774.5 L1432.5 774.5 Z M1456.5 766.0 L1464.5 766.0 L1455.0 805.0 L1447.0 805.0 Z M1433.0 804.0 L1440.0 804.0 L1434.0 818.3 L1427.5 818.3 Z M1447.5 804.0 L1454.0 804.0 L1458.0 817.0 L1451.5 817.0 Z M1462.0 771.0 L1482.0 771.0 L1480.4 777.8 L1460.4 777.8 Z M1461.0 765.0 L1468.5 765.0 L1458.5 806.0 L1451.0 806.0 Z M1477.0 777.0 L1484.0 777.0 L1468.5 815.0 L1461.5 815.0 Z M1463.5 811.0 L1482.5 811.0 L1481.0 818.3 L1462.0 818.3 Z M1490.0 765.0 L1496.0 765.0 L1484.0 814.0 L1478.0 814.0 Z M1516.0 765.0 L1522.5 765.0 L1508.5 781.0 L1502.0 781.0 Z M1518.5 778.0 L1525.0 778.0 L1508.0 797.5 L1501.5 797.5 Z M1496.0 783.5 L1505.0 783.5 L1503.8 789.0 L1494.8 789.0 Z M1524.0 764.8 L1545.5 764.8 L1543.6 772.5 L1522.1 772.5 Z M1547.0 764.8 L1556.0 764.8 L1529.0 792.0 L1520.0 792.0 Z M1532.0 775.5 L1539.5 775.5 L1549.5 788.5 L1548.5 791.8 L1539.0 791.8 Z M1495.5 797.0 L1547.5 797.0 L1546.4 801.6 L1526.5 801.6 L1525.5 805.6 L1493.5 805.6 Z M1526.5 801.0 L1534.5 801.0 L1532.4 810.5 L1524.4 810.5 Z M1490.0 810.0 L1544.5 810.0 L1542.5 818.2 L1488.0 818.2 Z " fill="#5d606b" fill-rule="nonzero"/><path d="M1323.5 764.3 L1334.0 764.3 L1332.2 781.0 L1320.5 781.0 Z M1318.0 782.0 L1328.5 782.0 L1326.5 791.5 L1316.0 791.5 Z M1309.5 818.5 L1317.5 818.5 L1327.0 797.0 L1319.0 797.0 Z M1335.5 764.8 L1375.0 764.8 L1373.0 773.3 L1333.5 773.3 Z M1336.5 775.0 L1372.5 775.0 L1361.5 815.0 L1358.0 818.5 L1325.6 818.5 Z M1341.5 784.0 L1359.0 784.0 L1356.7 793.0 L1339.2 793.0 Z M1337.0 800.5 L1354.7 800.5 L1352.2 810.6 L1334.5 810.6 Z M1319.0 793.0 L1337.0 793.0 L1335.3 800.0 L1317.3 800.0 Z M1381.6 764.8 L1433.5 764.8 L1431.6 772.7 L1379.7 772.7 Z M1381.6 772.7 L1390.5 772.7 L1387.2 785.5 L1378.3 785.5 Z M1420.7 772.7 L1431.8 772.7 L1421.6 814.5 L1417.6 818.6 L1396.5 818.6 L1398.3 811.3 L1411.2 811.3 Z M1368.5 785.3 L1429.0 785.3 L1426.7 794.5 L1366.2 794.5 Z M1366.2 794.5 L1378.5 794.5 L1377.2 800.0 L1364.9 800.0 Z M1373.8 800.0 L1397.5 800.0 L1395.4 808.6 L1371.7 808.6 Z " fill="#5d606b" fill-rule="evenodd"/><path d="M1351.5 784.0 L1354.5 784.0 L1356.8 793.0 L1353.8 793.0 Z M1347.0 800.5 L1350.0 800.5 L1352.2 810.6 L1349.2 810.6 Z " fill="#5d606b"/></g>
<path d="M1434.5 766.0 L1442.0 766.0 L1433.0 805.0 L1425.5 805.0 Z M1434.5 766.0 L1466.0 766.0 L1464.0 774.5 L1432.5 774.5 Z M1456.5 766.0 L1464.5 766.0 L1455.0 805.0 L1447.0 805.0 Z M1433.0 804.0 L1440.0 804.0 L1434.0 818.3 L1427.5 818.3 Z M1447.5 804.0 L1454.0 804.0 L1458.0 817.0 L1451.5 817.0 Z M1462.0 771.0 L1482.0 771.0 L1480.4 777.8 L1460.4 777.8 Z M1461.0 765.0 L1468.5 765.0 L1458.5 806.0 L1451.0 806.0 Z M1477.0 777.0 L1484.0 777.0 L1468.5 815.0 L1461.5 815.0 Z M1463.5 811.0 L1482.5 811.0 L1481.0 818.3 L1462.0 818.3 Z M1490.0 765.0 L1496.0 765.0 L1484.0 814.0 L1478.0 814.0 Z M1516.0 765.0 L1522.5 765.0 L1508.5 781.0 L1502.0 781.0 Z M1518.5 778.0 L1525.0 778.0 L1508.0 797.5 L1501.5 797.5 Z M1496.0 783.5 L1505.0 783.5 L1503.8 789.0 L1494.8 789.0 Z M1524.0 764.8 L1545.5 764.8 L1543.6 772.5 L1522.1 772.5 Z M1547.0 764.8 L1556.0 764.8 L1529.0 792.0 L1520.0 792.0 Z M1532.0 775.5 L1539.5 775.5 L1549.5 788.5 L1548.5 791.8 L1539.0 791.8 Z M1495.5 797.0 L1547.5 797.0 L1546.4 801.6 L1526.5 801.6 L1525.5 805.6 L1493.5 805.6 Z M1526.5 801.0 L1534.5 801.0 L1532.4 810.5 L1524.4 810.5 Z M1490.0 810.0 L1544.5 810.0 L1542.5 818.2 L1488.0 818.2 Z " fill="#ffffff"/>
<path d="M1323.5 764.3 L1334.0 764.3 L1332.2 781.0 L1320.5 781.0 Z M1318.0 782.0 L1328.5 782.0 L1326.5 791.5 L1316.0 791.5 Z M1309.5 818.5 L1317.5 818.5 L1327.0 797.0 L1319.0 797.0 Z M1335.5 764.8 L1375.0 764.8 L1373.0 773.3 L1333.5 773.3 Z M1336.5 775.0 L1372.5 775.0 L1361.5 815.0 L1358.0 818.5 L1325.6 818.5 Z M1341.5 784.0 L1359.0 784.0 L1356.7 793.0 L1339.2 793.0 Z M1337.0 800.5 L1354.7 800.5 L1352.2 810.6 L1334.5 810.6 Z M1319.0 793.0 L1337.0 793.0 L1335.3 800.0 L1317.3 800.0 Z M1381.6 764.8 L1433.5 764.8 L1431.6 772.7 L1379.7 772.7 Z M1381.6 772.7 L1390.5 772.7 L1387.2 785.5 L1378.3 785.5 Z M1420.7 772.7 L1431.8 772.7 L1421.6 814.5 L1417.6 818.6 L1396.5 818.6 L1398.3 811.3 L1411.2 811.3 Z M1368.5 785.3 L1429.0 785.3 L1426.7 794.5 L1366.2 794.5 Z M1366.2 794.5 L1378.5 794.5 L1377.2 800.0 L1364.9 800.0 Z M1373.8 800.0 L1397.5 800.0 L1395.4 808.6 L1371.7 808.6 Z " fill="#ffffff" fill-rule="evenodd"/>
<path d="M1351.5 784.0 L1354.5 784.0 L1356.8 793.0 L1353.8 793.0 Z M1347.0 800.5 L1350.0 800.5 L1352.2 810.6 L1349.2 810.6 Z " fill="#ffffff"/>
<g opacity="0.45"><rect x="1482" y="760" width="1" height="62" fill="#50535e"/><rect x="1300" y="794" width="246" height="1" fill="#50535e"/><text x="1405.5" y="811.8" font-size="12" fill="#50535e" text-anchor="middle">Mar</text></g>
<text x="1322.3" y="851.8" font-size="31" font-weight="bold" font-style="italic" fill="#80838f" stroke="#80838f" stroke-width="2.2" stroke-linejoin="round">z</text>
<text x="1349.0" y="851.8" font-size="31" font-weight="bold" font-style="italic" fill="#80838f" stroke="#80838f" stroke-width="2.2" stroke-linejoin="round">z</text>
<text x="1377.0" y="851.8" font-size="31" font-weight="bold" font-style="italic" fill="#80838f" stroke="#80838f" stroke-width="2.2" stroke-linejoin="round">r</text>
<text x="1402.0" y="851.8" font-size="31" font-weight="bold" font-style="italic" fill="#80838f" stroke="#80838f" stroke-width="2.2" stroke-linejoin="round">t</text>
<text x="1422.1" y="851.8" font-size="31" font-weight="bold" font-style="italic" fill="#80838f" stroke="#80838f" stroke-width="2.2" stroke-linejoin="round">0</text>
<text x="1455.8" y="851.8" font-size="31" font-weight="bold" font-style="italic" fill="#80838f" stroke="#80838f" stroke-width="2.2" stroke-linejoin="round">1</text>
<text x="1479.6" y="851.8" font-size="31" font-weight="bold" font-style="italic" fill="#80838f" stroke="#80838f" stroke-width="2.2" stroke-linejoin="round">.</text>
<text x="1499.7" y="851.8" font-size="31" font-weight="bold" font-style="italic" fill="#80838f" stroke="#80838f" stroke-width="2.2" stroke-linejoin="round">c</text>
<text x="1523.9" y="851.8" font-size="31" font-weight="bold" font-style="italic" fill="#80838f" stroke="#80838f" stroke-width="2.2" stroke-linejoin="round">n</text>
<text x="1321.0" y="850.4" font-size="31" font-weight="bold" font-style="italic" fill="#8ab8f8" stroke="#8ab8f8" stroke-width="2.2" stroke-linejoin="round">z</text>
<text x="1347.7" y="850.4" font-size="31" font-weight="bold" font-style="italic" fill="#8ab8f8" stroke="#8ab8f8" stroke-width="2.2" stroke-linejoin="round">z</text>
<text x="1375.7" y="850.4" font-size="31" font-weight="bold" font-style="italic" fill="#8ab8f8" stroke="#8ab8f8" stroke-width="2.2" stroke-linejoin="round">r</text>
<text x="1400.7" y="850.4" font-size="31" font-weight="bold" font-style="italic" fill="#8ab8f8" stroke="#8ab8f8" stroke-width="2.2" stroke-linejoin="round">t</text>
<text x="1420.8" y="850.4" font-size="31" font-weight="bold" font-style="italic" fill="#8ab8f8" stroke="#8ab8f8" stroke-width="2.2" stroke-linejoin="round">0</text>
<text x="1454.5" y="850.4" font-size="31" font-weight="bold" font-style="italic" fill="#8ab8f8" stroke="#8ab8f8" stroke-width="2.2" stroke-linejoin="round">1</text>
<text x="1478.3" y="850.4" font-size="31" font-weight="bold" font-style="italic" fill="#8ab8f8" stroke="#8ab8f8" stroke-width="2.2" stroke-linejoin="round">.</text>
<text x="1498.4" y="850.4" font-size="31" font-weight="bold" font-style="italic" fill="#8ab8f8" stroke="#8ab8f8" stroke-width="2.2" stroke-linejoin="round">c</text>
<text x="1522.6" y="850.4" font-size="31" font-weight="bold" font-style="italic" fill="#8ab8f8" stroke="#8ab8f8" stroke-width="2.2" stroke-linejoin="round">n</text>
</svg>
</body></html>
